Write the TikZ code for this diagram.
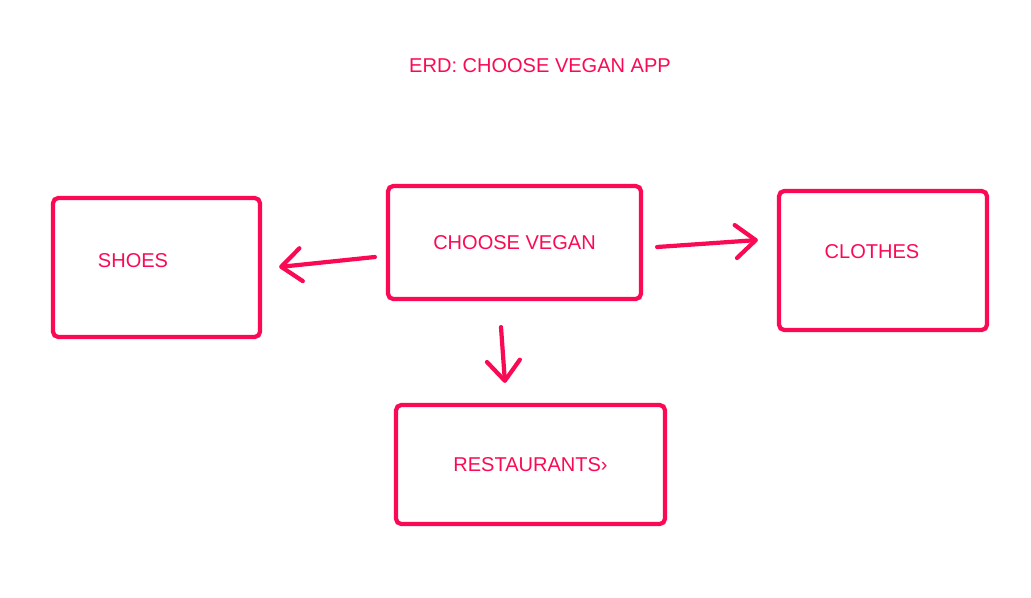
\documentclass[tikz,border=0pt]{standalone}
\usepackage{fontspec}
\setmainfont{Liberation Sans}
\usepackage{xcolor}
\definecolor{erdpink}{RGB}{250,10,85}
\usetikzlibrary{arrows.meta,positioning,calc}

\begin{document}
\begin{tikzpicture}[x=0.02cm, y=-0.02cm,
    entity/.style={draw=erdpink, line width=2.4pt, rounded corners=3pt, rectangle, inner sep=0pt, text=erdpink, font=\fontsize{11.4}{13}\selectfont},
    title/.style={text=erdpink, font=\fontsize{11.4}{13}\selectfont},
    conn/.style={draw=erdpink, line width=2.4pt, line cap=round, -{Straight Barb[length=0.4cm, width=0.66cm, line cap=round, line join=round]}}]
  \useasboundingbox (0,0) rectangle (1031,598);
  % Title
  \node[title] (erd) at (540,66) {ERD: CHOOSE VEGAN APP};
  % Entities
  \node[entity, minimum width=253*0.02cm, minimum height=113*0.02cm] (choose) at (514.5,242.5) {CHOOSE VEGAN};
  \node[entity, minimum width=207*0.02cm, minimum height=139*0.02cm, label={[text=erdpink, font=\fontsize{11.4}{13}\selectfont, xshift=-0.47cm, yshift=0.13cm]center:SHOES}] (shoes) at (156.5,267.5) {};
  \node[entity, minimum width=208*0.02cm, minimum height=139*0.02cm, label={[text=erdpink, font=\fontsize{11.4}{13}\selectfont, xshift=-0.22cm, yshift=0.17cm]center:CLOTHES}] (clothes) at (883,260.5) {};
  \node[entity, minimum width=269*0.02cm, minimum height=119*0.02cm] (rest) at (530.5,464.5) {RESTAURANTS›};
  % Connectors
  \draw[conn] ($(choose.west)+(-11,14.5)$) -- ($(shoes.east)+(17,-0.5)$);
  \draw[conn] ($(choose.east)+(14,4.5)$) -- ($(clothes.west)+(-19,-20.5)$);
  \draw[conn] ($(choose.south)+(-13.5,26)$) -- ($(rest.north)+(-25.5,-20)$);
\end{tikzpicture}
\end{document}
